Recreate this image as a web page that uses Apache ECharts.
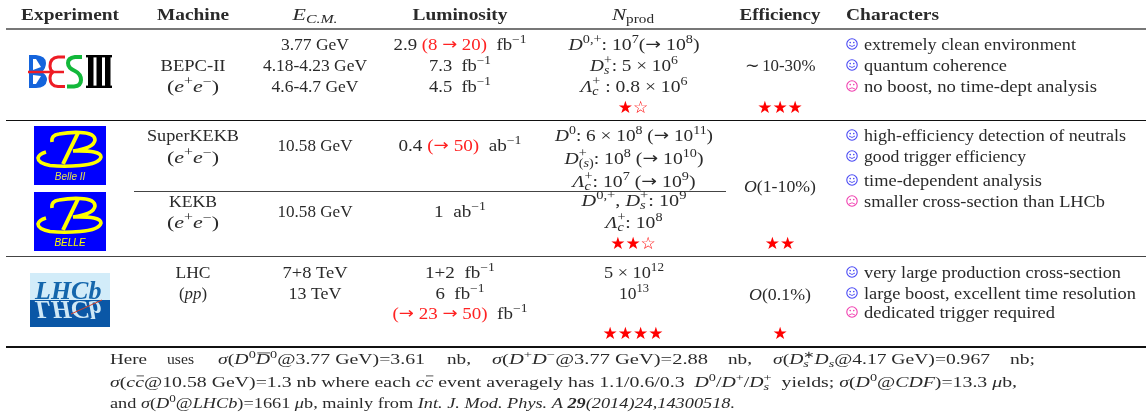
<!DOCTYPE html>
<html>
<head>
<meta charset="utf-8">
<script src="https://cdn.jsdelivr.net/npm/echarts@6/dist/echarts.min.js"></script>
<style>
  html, body { margin: 0; padding: 0; background: #fff; }
  #main { width: 1146px; height: 417px; }
</style>
</head>
<body>
<div id="main"></div>
<script>
// table contents. markup: <i> italic, <b> bold, <r> red, <o> overline, ^{} sup, _{} sub
const headers = ['<b>Experiment</b>', '<b>Machine</b>', '<i>E</i>_{<i>C.M.</i>}', '<b>Luminosity</b>', '<i>N</i>_{prod}', '<b>Efficiency</b>', '<b>Characters</b>']
const machines = ['BEPC-II', '(<i>e</i>^{+}<i>e</i>^{−})', 'SuperKEKB', '(<i>e</i>^{+}<i>e</i>^{−})', 'KEKB', '(<i>e</i>^{+}<i>e</i>^{−})', 'LHC', '(<i>pp</i>)']
const energies = ['3.77 GeV', '4.18-4.23 GeV', '4.6-4.7 GeV', '10.58 GeV', '10.58 GeV', '7+8 TeV', '13 TeV']
const luminosities = ['2.9 <r>(8 → 20)</r>  fb^{−1}', '7.3  fb^{−1}', '4.5  fb^{−1}', '0.4 <r>(→ 50)</r>  ab^{−1}', '1  ab^{−1}', '1+2  fb^{−1}', '6  fb^{−1}', '<r>(→ 23 → 50)</r>  fb^{−1}']
const productions = [
  '<i>D</i>^{0,+}: 10^{7}(→ 10^{8})', '<i>D</i>_{<i>s</i>}^{+}: 5 × 10^{6}', '<i>Λ</i>_{<i>c</i>}^{+} : 0.8 × 10^{6}',
  '<i>D</i>^{0}: 6 × 10^{8} (→ 10^{11})', '<i>D</i>_{(<i>s</i>)}^{+}: 10^{8} (→ 10^{10})', '<i>Λ</i>_{<i>c</i>}^{+}: 10^{7} (→ 10^{9})',
  '<i>D</i>^{0,+}, <i>D</i>_{<i>s</i>}^{+}: 10^{9}', '<i>Λ</i>_{<i>c</i>}^{+}: 10^{8}',
  '5 × 10^{12}', '10^{13}'
]
const efficiencies = ['∼\u200910-30%', '<i>O</i>(1-10%)', '<i>O</i>(0.1%)']
const productionStars = [[1, 1], [2, 1], [4, 0]] // filled, hollow
const efficiencyStars = [3, 2, 1]
const characters = [
  'extremely clean environment', 'quantum coherence', 'no boost, no time-dept analysis',
  'high-efficiency detection of neutrals', 'good trigger efficiency', 'time-dependent analysis', 'smaller cross-section than LHCb',
  'very large production cross-section', 'large boost, excellent time resolution', 'dedicated trigger required'
]
const characterGood = [1, 1, 0, 1, 1, 1, 0, 1, 1, 0]
const footnote1 = [
  'Here', 'uses', '<i>σ</i>(<i>D</i>^{0}<o><i>D</i></o>^{0}@3.77 GeV)=3.61', 'nb,',
  '<i>σ</i>(<i>D</i>^{+}<i>D</i>^{−}@3.77 GeV)=2.88', 'nb,',
  '<i>σ</i>(<i>D</i>_{<i>s</i>}^{∗}<i>D</i>_{<i>s</i>}@4.17 GeV)=0.967', 'nb;'
]
const footnote2 = '<i>σ</i>(<i>c</i><o><i>c</i></o>@10.58 GeV)=1.3 nb where each <i>c</i><o><i>c</i></o> event averagely has 1.1/0.6/0.3  <i>D</i>^{0}/<i>D</i>^{+}/<i>D</i>_{<i>s</i>}^{+}  yields; <i>σ</i>(<i>D</i>^{0}@<i>CDF</i>)=13.3 <i>μ</i>b,'
const footnote3 = 'and <i>σ</i>(<i>D</i>^{0}@<i>LHCb</i>)=1661 <i>μ</i>b, mainly from <i>Int. J. Mod. Phys. A </i><b><i>29</i></b><i>(2014)24,14300518.</i>'

// layout, in page pixels
const headerX = [70, 193, 315, 460, 633, 780]
const headerWidths = [98, 72, 45, 95, 42, 81, 93]
const machineY = [70, 91, 140, 162, 206, 227, 277, 298]
const machineW = [65, 52, 92, 52, 48, 52, 35, 28]
const energyY = [49, 70, 91, 150, 216, 277, 298]
const energyW = [68, 104, 87, 75, 75, 65, 53]
const lumiY = [49, 70, 91, 150, 216, 277, 298, 318]
const lumiW = [133, 62, 62, 123, 52, 70, 49, 135]
const prodY = [49, 70, 91, 140, 163, 186, 205, 227, 277, 298]
const prodW = [131, 88, 107, 158, 139, 123, 105, 57, 60, 30]
const effY = [70, 191, 299]
const effW = [71, 72, 62]
const starY = [109, 245, 335]
const charY = [49, 70, 91, 140, 161, 185, 206, 277, 298, 317]
const charW = [212, 143, 233, 262, 162, 178, 241, 257, 272, 191]
const foot1X = [110, 167, 218, 447, 492, 728, 773, 1010]
const foot1W = [37, 27, 207, 24, 216, 24, 217, 25]

const INK = '#2a2a2a'
const RED = '#f22'
const SERIF = '"Liberation Serif"'
const ctx = document.createElement('canvas').getContext('2d')

function parseRuns (src) {
  const runs = []
  let st = { i: false, b: false, r: false, o: false }
  const re = /<(\/?)([ibro])>|([\^_])\{((?:[^{}])*)\}|([^<^_]+)/g
  let m
  while ((m = re.exec(src))) {
    if (m[2]) st = Object.assign({}, st, { [m[2]]: !m[1] })
    else if (m[3]) {
      for (const r of parseRuns(m[4])) {
        runs.push(Object.assign({}, r, { script: m[3], i: r.i || st.i, r: r.r || st.r }))
      }
      runs[runs.length - 1].endScript = true
    } else {
      // arrows come from DejaVu, the Liberation one is too short
      for (const piece of m[5].split(/(→)/)) {
        if (piece) runs.push(Object.assign({ text: piece, arrow: piece === '→' }, st))
      }
    }
  }
  return runs
}

// lays the runs out one after another, returns children with their natural width
function richLine (src, size, color) {
  const children = []
  let x = 0
  let subEnd = null
  let subStart = null
  let prev = null
  for (const r of parseRuns(src)) {
    const fs = r.script ? size * 0.72 : size
    const font = r.arrow ? (fs * 0.95) + 'px "DejaVu Sans"' : (r.b ? 'bold ' : '') + (r.i ? 'italic ' : '') + fs + 'px ' + SERIF
    ctx.font = font
    if (r.script === '_' && prev !== '_') subStart = x
    if (r.script === '^' && prev === '_') { subEnd = x; x = subStart }
    const w = ctx.measureText(r.text).width
    const dy = r.script === '^' ? -size * 0.42 : r.script === '_' ? size * 0.24 : 0
    children.push({
      type: 'text', x: x, y: dy - fs * 0.22,
      style: { text: r.text, font: font, fill: r.r ? RED : (color || INK), align: 'left', verticalAlign: 'middle' },
      silent: true
    })
    if (r.o) {
      children.push({ type: 'line', shape: { x1: x + 1, y1: -size * 0.72, x2: x + w, y2: -size * 0.72 }, style: { stroke: INK, lineWidth: 0.8 }, silent: true })
    }
    x += w
    if (r.script === '^' && subEnd !== null && r.endScript) { x = Math.max(x, subEnd); subEnd = null }
    prev = r.script || null
  }
  return { children: children, width: x }
}

function textLine (src, x, y, width, opt) {
  opt = opt || {}
  const line = richLine(src, opt.size || 16.5, opt.color)
  const sx = width / line.width
  const left = opt.align === 'left' ? x : x - width / 2
  return { type: 'group', x: left, y: y, scaleX: sx, children: line.children, silent: true }
}

function rule (x1, x2, y, lw, color) {
  return { type: 'line', shape: { x1: x1, y1: y, x2: x2, y2: y }, style: { stroke: color, lineWidth: lw }, silent: true }
}

// graphic has no plain path type, so svg strings get registered as shapes
let pathCount = 0
function svgPath (d, style) {
  const name = 'logoPath' + (pathCount++)
  echarts.graphic.registerShape(name, echarts.graphic.extendPath(d))
  return { type: name, style: style, silent: true }
}

function face (cx, cy, good) {
  const c = good ? '#4848f4' : '#f040b0'
  const mouth = good ? 'M-3,1 Q0,4 3,1' : 'M-3,3 Q0,0.6 3,3'
  return {
    type: 'group', x: cx, y: cy, silent: true,
    children: [
      { type: 'circle', shape: { cx: 0, cy: 0, r: 5.2 }, style: { fill: 'none', stroke: c, lineWidth: 1.1 } },
      { type: 'circle', shape: { cx: -1.8, cy: -1.4, r: 0.8 }, style: { fill: c } },
      { type: 'circle', shape: { cx: 1.8, cy: -1.4, r: 0.8 }, style: { fill: c } },
      svgPath(mouth, { fill: 'none', stroke: c, lineWidth: 0.9 })
    ]
  }
}

function stars (cx, cy, filled, hollow) {
  const s = '★'.repeat(filled) + '☆'.repeat(hollow)
  return { type: 'text', x: cx, y: cy, silent: true, style: { text: s, font: '17px "DejaVu Sans"', fill: '#f00', align: 'center', verticalAlign: 'middle' } }
}

function besLogo () {
  const bar = (x, y, w, h) => ({ type: 'rect', shape: { x: x, y: y, width: w, height: h }, style: { fill: '#000' } })
  return {
    type: 'group', silent: true,
    children: [
      svgPath('M29,55 L36,55 Q46,56 46,63 Q46,68 42,72 Q47,75 47,80 Q46,88 36,88 L29,88 Z', { fill: '#1464dc' }),
      svgPath('M33,59 L36,59 L41,67 L33,70 Z M33,75 L41,76 L36,84 L33,84 Z', { fill: '#fff' }),
      svgPath('M65,57 L58,57 Q50,58 50,66 Q50,70 53,72 Q50,74 50,78 Q50,86 58,86.5 L65,86.5', { fill: 'none', stroke: '#ee1c25', lineWidth: 3 }),
      svgPath('M28,72 L64,72', { fill: 'none', stroke: '#ee1c25', lineWidth: 2.4 }),
      svgPath('M82,57 L75,57 Q68,58 68,63 Q68,68 75,71 Q81,74 81,80 Q81,86 74,86.5 L67,86.5', { fill: 'none', stroke: '#12b83a', lineWidth: 4 }),
      bar(86, 55, 26, 2.4), bar(86, 85.6, 26, 2.4), bar(88, 55, 5.5, 33), bar(96.5, 55, 5.5, 33), bar(105, 55, 5.5, 33)
    ]
  }
}

function belleLogo (y, label, labelColor) {
  const yl = '#ffff00'
  return {
    type: 'group', x: 34, y: y, silent: true,
    children: [
      { type: 'rect', shape: { x: 0, y: 0, width: 72, height: 59 }, style: { fill: '#0000ff' } },
      svgPath('M18,16 Q17,9 25,8 Q36,6 46,6.5 Q61,7 61,14 Q60,22 39,25 Q67,24 67,31 Q65,38 46,39.5 Q30,41 16,39.5 Q4,37 4,32 Q5,28 12,26', { fill: 'none', stroke: yl, lineWidth: 3.6 }),
      svgPath('M44,7 L29,38', { fill: 'none', stroke: yl, lineWidth: 4 }),
      { type: 'text', x: 36, y: 51, style: { text: label, font: 'italic 10px "Liberation Sans"', fill: labelColor, align: 'center', verticalAlign: 'middle' } }
    ]
  }
}

function lhcbLogo () {
  const word = 'bold italic 26px "Liberation Serif"'
  return {
    type: 'group', x: 30, y: 273, silent: true,
    children: [
      { type: 'rect', shape: { x: 0, y: 0, width: 80, height: 27 }, style: { fill: '#d2ecf9' } },
      { type: 'rect', shape: { x: 0, y: 27, width: 80, height: 27 }, style: { fill: '#0a57a6' } },
      { type: 'text', x: 5, y: 27 - 8, style: { text: 'LHCb', font: word, fill: '#1466ac', align: 'left', verticalAlign: 'middle' } },
      {
        type: 'group', x: 5, y: 27, scaleY: -1,
        children: [{ type: 'text', x: 0, y: -8, style: { text: 'LHCb', font: word, fill: '#cfe8f6', align: 'left', verticalAlign: 'middle' } }]
      },
      { type: 'line', shape: { x1: 41, y1: 41, x2: 72, y2: 27 }, style: { stroke: '#d8402a', lineWidth: 1 } }
    ]
  }
}

const els = []
// rules
els.push(rule(6, 1146, 29, 2, '#777'), rule(6, 1146, 120.5, 1, '#111'), rule(134, 726, 191.5, 1, '#444'), rule(6, 1146, 256.5, 1, '#444'), rule(6, 1146, 347, 2, '#111'))
// header
headers.forEach((h, k) => {
  if (k < 6) els.push(textLine(h, headerX[k], 19, headerWidths[k]))
  else els.push(textLine(h, 846, 19, headerWidths[k], { align: 'left' }))
})
machines.forEach((t, k) => els.push(textLine(t, 193, machineY[k], machineW[k])))
energies.forEach((t, k) => els.push(textLine(t, 315, energyY[k], energyW[k])))
luminosities.forEach((t, k) => els.push(textLine(t, 460, lumiY[k], lumiW[k])))
productions.forEach((t, k) => els.push(textLine(t, 634, prodY[k], prodW[k])))
efficiencies.forEach((t, k) => els.push(textLine(t, 780, effY[k], effW[k])))
productionStars.forEach((s, k) => els.push(stars(633, starY[k], s[0], s[1])))
efficiencyStars.forEach((s, k) => els.push(stars(780, starY[k], s, 0)))
characters.forEach((t, k) => {
  els.push(face(852, charY[k] - 5, characterGood[k]))
  els.push(textLine(t, 864, charY[k], charW[k], { align: 'left' }))
})
footnote1.forEach((t, k) => els.push(textLine(t, foot1X[k], 363, foot1W[k], { size: 14, align: 'left' })))
els.push(textLine(footnote2, 110, 386, 907, { size: 14, align: 'left' }))
els.push(textLine(footnote3, 110, 407, 625, { size: 14, align: 'left' }))
// logos
els.push(besLogo(), belleLogo(126, 'Belle II', '#e4e44a'), belleLogo(192, 'BELLE', '#ffff00'), lhcbLogo())

const chart = echarts.init(document.getElementById('main'), null, { renderer: 'canvas' })
chart.setOption({ backgroundColor: '#fff', animation: false, graphic: { elements: els } })
</script>
</body>
</html>
